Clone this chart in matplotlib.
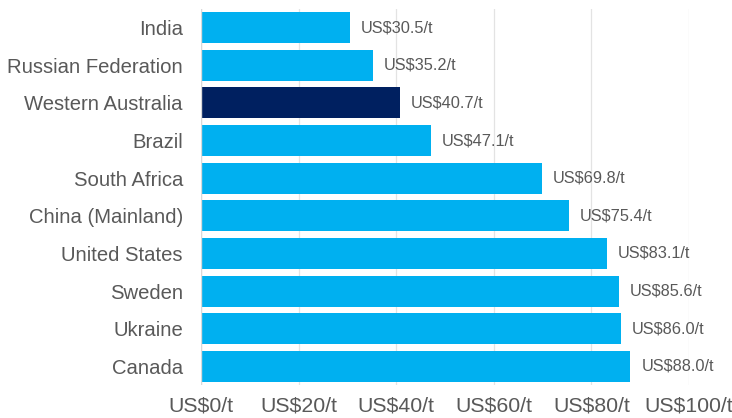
import matplotlib
matplotlib.use("Agg")
import matplotlib.pyplot as plt

countries = ["India", "Russian Federation", "Western Australia", "Brazil", "South Africa",
             "China (Mainland)", "United States", "Sweden", "Ukraine", "Canada"]
values = [30.5, 35.2, 40.7, 47.1, 69.8, 75.4, 83.1, 85.6, 86.0, 88.0]
highlight = "Western Australia"
xticks = [0, 20, 40, 60, 80, 100]
xtick_labels = ["US$0/t", "US$20/t", "US$40/t", "US$60/t", "US$80/t", "US$100/t"]

plt.rcParams['font.family'] = ['Liberation Sans', 'DejaVu Sans']
text_color = "#595959"

fig = plt.figure(figsize=(7.32, 4.18), dpi=100)
ax = fig.add_axes([201/732, 1 - 385.3/418, (689-201)/732, (385.3-8.7)/418])

colors = ["#002060" if c == highlight else "#00B0F0" for c in countries]
ypos = list(range(len(countries)))
ax.barh(ypos, values, height=0.82, color=colors, zorder=3)
ax.set_ylim(len(countries) - 0.5, -0.5)
ax.set_xlim(0, 100)
ax.set_yticks(ypos)
ax.set_yticklabels(countries, fontsize=14.6, color=text_color)
ax.set_xticks(xticks)
ax.set_xticklabels(xtick_labels, fontsize=15.3, color=text_color)
ax.tick_params(axis='both', length=0)
ax.tick_params(axis='y', pad=13)
ax.tick_params(axis='x', pad=8)
for s in ax.spines.values():
    s.set_visible(False)
ax.xaxis.grid(True, color="#E3E3E3", linewidth=0.9, zorder=0)
ax.axvline(0, color="#D9D9D9", linewidth=1, zorder=4)

for y, v in zip(ypos, values):
    ax.text(v + 2.3, y, f"US${v:.1f}/t", va="center", ha="left", fontsize=11.8, color=text_color)

fig.savefig("out.png", dpi=100)
